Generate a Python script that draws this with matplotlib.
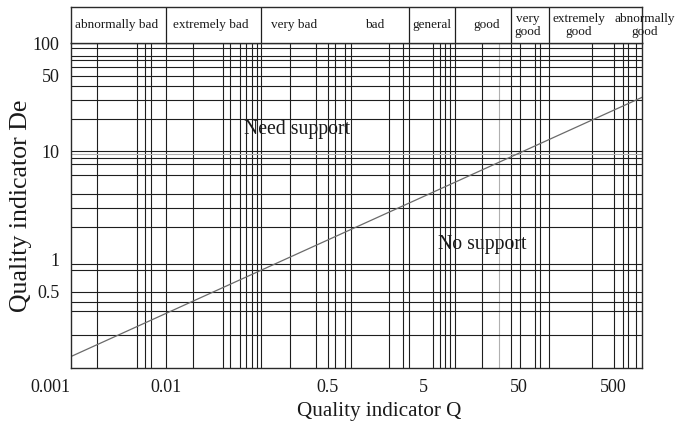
import matplotlib
matplotlib.use("Agg")
import matplotlib.pyplot as plt

plt.rcParams['font.family'] = ['Liberation Serif', 'DejaVu Serif']

# Axis ranges
q_range = [0.001, 1000]
de_range = [0.1, 100]

# Labelled ticks
q_ticks = [0.001, 0.01, 0.5, 5, 50, 500]
q_tick_labels = ["0.001", "0.01", "0.5", "5", "50", "500"]
de_ticks = [0.5, 1, 10, 50, 100]
de_tick_labels = ["0.5", "1", "10", "50", "100"]

# Grid lines of the chart (class boundaries are drawn separately)
q_grid = [0.0019, 0.005, 0.006, 0.007,
          0.019, 0.04, 0.047, 0.06, 0.07, 0.08, 0.09,
          0.2, 0.38, 0.5, 0.6, 0.76, 0.88,
          2.2, 3.1, 6.4, 7.5, 8.5, 9.5,
          21, 52, 74, 85,
          300, 500, 630, 700, 860]
q_grid_light = [31]
de_grid = [0.2, 0.33, 0.4, 0.5, 0.8, 0.9,
           2, 3, 4, 6, 7.6, 8.7, 10,
           20, 30, 40, 50, 60, 70, 76, 90]
de_grid_light = [9.4]

# Rock-mass quality classes along Q
class_bounds = [0.001, 0.01, 0.1, 3.6, 10.7, 42, 105, 1000]
class_names = ["abnormally bad", "extremely bad", "very bad", "bad", "general",
               "good", "very\ngood", "extremely\ngood", "abnormally\ngood"]
class_label_q = [0.003, 0.0293, 0.22, 1.55, 6.2, 23, 63, 214, 1060]

# Support boundary
boundary_q = [0.001, 1000]
boundary_de = [0.126, 31.7]

W, H = 676, 422
fig = plt.figure(figsize=(W / 100, H / 100), dpi=100)

left, right = 70.7 / W, 642.3 / W
bottom, top = 1 - 367.5 / H, 1 - 43.3 / H
head_top = 1 - 7.3 / H

ax = fig.add_axes([left, bottom, right - left, top - bottom])
hx = fig.add_axes([left, top, right - left, head_top - top], sharex=ax)

ax.set_xscale('log')
ax.set_yscale('log')
ax.set_xlim(q_range)
ax.set_ylim(de_range)

grid_kw = dict(color='#1e1e1e', lw=0.8, zorder=1)
light_kw = dict(color='#b0b0b0', lw=0.8, zorder=1)
for q in q_grid + class_bounds[1:-1]:
    ax.axvline(q, **grid_kw)
for q in q_grid_light:
    ax.axvline(q, **light_kw)
for d in de_grid:
    ax.axhline(d, **grid_kw)
for d in de_grid_light:
    ax.axhline(d, **light_kw)

ax.plot(boundary_q, boundary_de, color='#6a6a6a', lw=0.9, zorder=3)

ax.text(0.237, 15.8, "Need support", fontsize=14.2, color='#1a1a1a',
        ha='center', va='center', zorder=4)
ax.text(20.7, 1.37, "No support", fontsize=14.2, color='#1a1a1a',
        ha='center', va='center', zorder=4)

ax.xaxis.set_major_locator(matplotlib.ticker.FixedLocator(q_ticks))
ax.xaxis.set_major_formatter(matplotlib.ticker.FixedFormatter(q_tick_labels))
ax.xaxis.set_minor_locator(matplotlib.ticker.NullLocator())
ax.yaxis.set_major_locator(matplotlib.ticker.FixedLocator(de_ticks))
ax.yaxis.set_major_formatter(matplotlib.ticker.FixedFormatter(de_tick_labels))
ax.yaxis.set_minor_locator(matplotlib.ticker.NullLocator())
ax.tick_params(axis='both', length=0, labelsize=13, colors='#1a1a1a')
ax.tick_params(axis='x', pad=8)
ax.tick_params(axis='y', pad=8)
fig.canvas.draw()
ax.get_xticklabels()[0].set_horizontalalignment('right')

ax.set_xlabel("Quality indicator Q", fontsize=15.2, color='#1a1a1a')
ax.xaxis.set_label_coords(0.539, -0.105)
ax.set_ylabel("Quality indicator De", fontsize=18.6, color='#1a1a1a')
ax.yaxis.set_label_coords(-0.068, 0.5)

for s in ax.spines.values():
    s.set_color('#2a2a2a')
    s.set_linewidth(1.0)
    s.set_zorder(5)

# Class header strip
hx.set_ylim(0, 1)
hx.tick_params(axis='both', length=0, labelbottom=False, labelleft=False)
hx.set_yticks([])
for s in hx.spines.values():
    s.set_color('#2a2a2a')
    s.set_linewidth(1.0)
for b in class_bounds[1:-1]:
    if b in (0.01, 0.1, 3.6, 10.7, 42, 105):
        hx.axvline(b, color='#1e1e1e', lw=0.9)
for name, q in zip(class_names, class_label_q):
    hx.text(q, 0.5, name, fontsize=9.5, ha='center', va='center',
            linespacing=1.1, color='#1a1a1a', clip_on=False)

fig.savefig("out.png", dpi=100)
